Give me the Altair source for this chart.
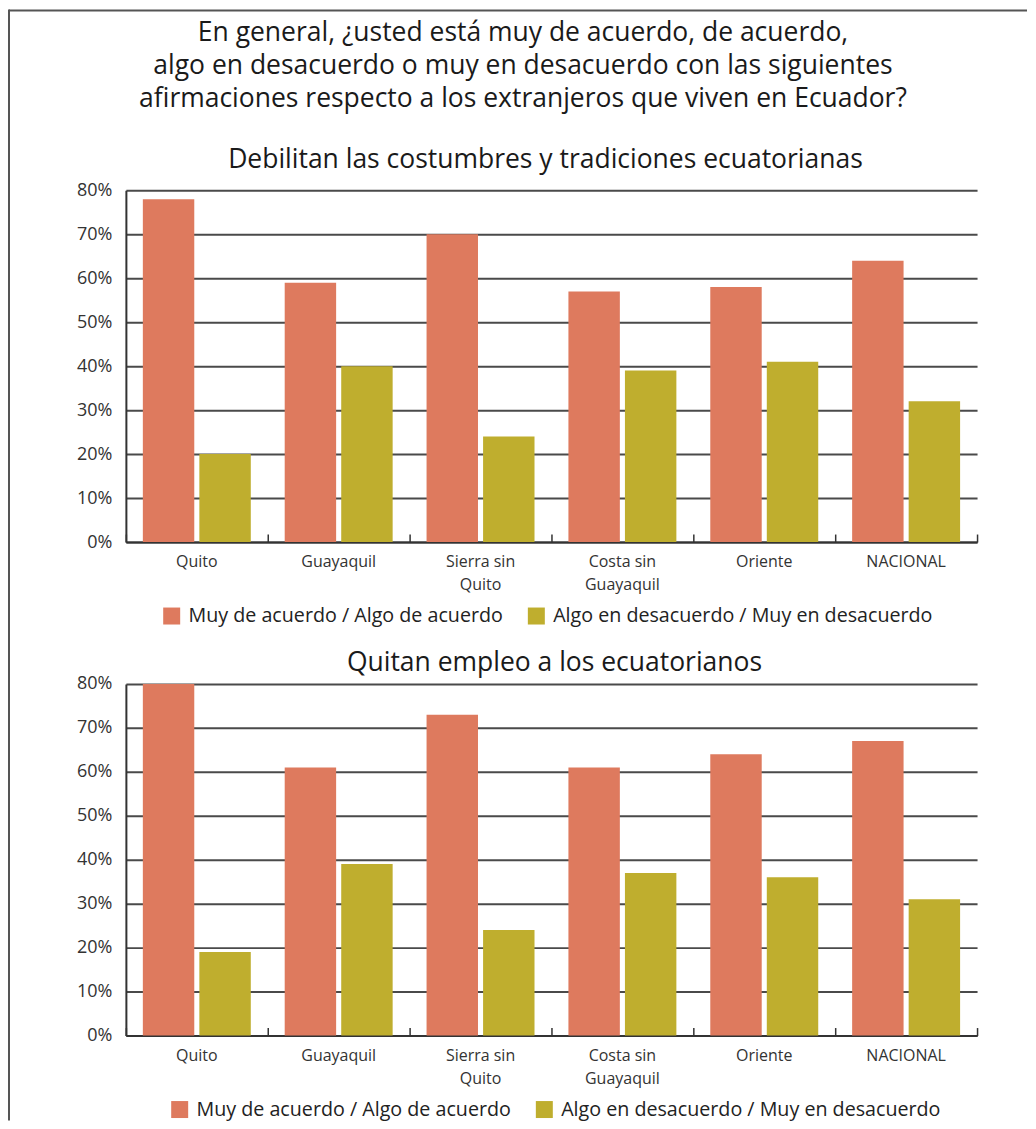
import altair as alt
import pandas as pd

categories = ["Quito", "Guayaquil", "Sierra sin Quito", "Costa sin Guayaquil", "Oriente", "NACIONAL"]
series = ["Muy de acuerdo / Algo de acuerdo", "Algo en desacuerdo / Muy en desacuerdo"]
costumbres_acuerdo = [78, 59, 70, 57, 58, 64]
costumbres_desacuerdo = [20, 40, 24, 39, 41, 32]
empleo_acuerdo = [80, 61, 73, 61, 64, 67]
empleo_desacuerdo = [19, 39, 24, 37, 36, 31]
colors = ["#DE7A5E", "#BFAE2E"]
y_ticks = [0, 0.1, 0.2, 0.3, 0.4, 0.5, 0.6, 0.7, 0.8]
main_title = [
    "En general, ¿usted está muy de acuerdo, de acuerdo,",
    "algo en desacuerdo o muy en desacuerdo con las siguientes",
    "afirmaciones respecto a los extranjeros que viven en Ecuador?",
]
panel_titles = ["Debilitan las costumbres y tradiciones ecuatorianas", "Quitan empleo a los ecuatorianos"]

FONT = "Open Sans"
W, H = 852, 352

label_expr = (
    "datum.value == 'Sierra sin Quito' ? ['Sierra sin', 'Quito'] : "
    "datum.value == 'Costa sin Guayaquil' ? ['Costa sin', 'Guayaquil'] : datum.value"
)


def make_df(a, d):
    rows = []
    for c, va, vd in zip(categories, a, d):
        rows.append({"cat": c, "serie": series[0], "valor": va / 100})
        rows.append({"cat": c, "serie": series[1], "valor": vd / 100})
    return pd.DataFrame(rows)


def panel(df, title_text, title_dx, title_offset, legend_x, frame=False):
    base = alt.Chart(df)
    bars = base.mark_bar().encode(
        x=alt.X(
            "cat:N", sort=categories,
            scale=alt.Scale(paddingInner=0, paddingOuter=0),
            axis=alt.Axis(
                title=None, labelAngle=0, ticks=False, domain=True,
                domainColor="#333333", domainWidth=2, labelFontSize=16,
                labelColor="#333333", labelPadding=12, labelExpr=label_expr,
                labelLineHeight=23, labelFont=FONT,
            ),
        ),
        xOffset=alt.XOffset(
            "serie:N", sort=series,
            scale=alt.Scale(paddingInner=0.09, paddingOuter=0.3),
        ),
        y=alt.Y(
            "valor:Q",
            scale=alt.Scale(domain=[0, 0.8], nice=False),
            axis=alt.Axis(
                title=None, format=".0%", values=y_ticks, grid=True,
                gridColor="#4a4a4a", gridWidth=2, domainColor="#333333",
                domainWidth=2, ticks=False, labelFontSize=18,
                labelColor="#333333", labelPadding=14, labelFont=FONT,
            ),
        ),
        color=alt.Color(
            "serie:N", sort=series,
            scale=alt.Scale(domain=series, range=colors),
            legend=alt.Legend(
                orient="none", legendX=legend_x, legendY=416,
                direction="horizontal", title=None, symbolType="square",
                symbolSize=289, symbolStrokeWidth=0, symbolOpacity=1,
                labelFontSize=19.7, labelFont=FONT, labelColor="#222222",
                labelOffset=7, columnPadding=23, padding=0, labelLimit=500,
            ),
        ),
    )
    ticks = base.mark_rule(opacity=0).encode(
        x=alt.X(
            "cat:N", sort=categories,
            axis=alt.Axis(
                orient="top", offset=-H, labels=False, domain=False, grid=False,
                ticks=True, tickBand="extent", tickSize=8, tickColor="#333333",
                tickWidth=1.5, title=None,
            ),
        )
    )
    layers = [bars, ticks]
    if frame:
        one = alt.Chart(pd.DataFrame({"k": [0]}))
        top_line = one.mark_rule(color="#555555", strokeWidth=2).encode(
            x=alt.value(-117), x2=alt.value(902), y=alt.value(-180), y2=alt.value(-180)
        )
        left_line = one.mark_rule(color="#555555", strokeWidth=2).encode(
            x=alt.value(-117), x2=alt.value(-117), y=alt.value(-181), y2=alt.value(931)
        )
        layers += [top_line, left_line]
    return alt.layer(*layers).resolve_axis(x="independent").properties(
        width=W, height=H,
        title=alt.TitleParams(
            text=title_text, fontSize=26.5, font=FONT, fontWeight="normal",
            color="#1a1a1a", anchor="middle", dx=title_dx, offset=title_offset,
        ),
    )


p1 = panel(make_df(costumbres_acuerdo, costumbres_desacuerdo), panel_titles[0], -6, -165, 36, frame=True)
p2 = panel(make_df(empleo_acuerdo, empleo_desacuerdo), panel_titles[1], 3, -2, 44)

chart = (
    alt.vconcat(p1, p2, spacing=142, bounds="flush")
    .resolve_legend(color="independent")
    .properties(
        padding=0,
        title=alt.TitleParams(
            text=main_title, fontSize=26.5, lineHeight=33, font=FONT,
            fontWeight="normal", color="#1a1a1a", anchor="middle",
            offset=-104, dx=5,
        ),
    )
    .configure(font=FONT)
    .configure_view(stroke=None)
)

chart.save("out.html", embed_options={"renderer": "svg", "actions": False})
